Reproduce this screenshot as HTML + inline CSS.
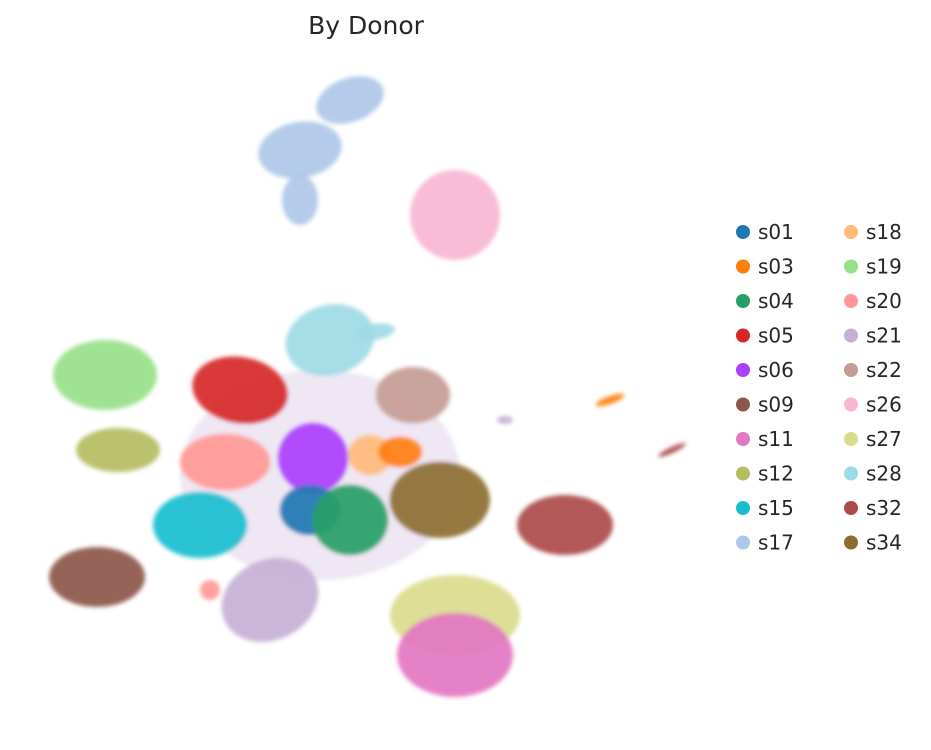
<!DOCTYPE html>
<html><head><meta charset="utf-8"><style>
body{margin:0;background:#fff;width:931px;height:745px;overflow:hidden;font-family:"Liberation Sans","DejaVu Sans",sans-serif;}
svg text{font-family:"DejaVu Sans","Liberation Sans",sans-serif;fill:#262626;}
</style></head><body>
<svg id="chart" width="931" height="745" viewBox="0 0 931 745">
<defs><filter id="fz" x="-20%" y="-20%" width="140%" height="140%"><feGaussianBlur stdDeviation="2"/></filter></defs>
<text x="366" y="34" text-anchor="middle" font-size="25">By Donor</text>
<g id="plot" filter="url(#fz)"></g>
<g id="legend"></g>
</svg>
<script>
// Donor categories and palette
const donors = ["s01","s03","s04","s05","s06","s09","s11","s12","s15","s17","s18","s19","s20","s21","s22","s26","s27","s28","s32","s34"];
const colors = ["#1f77b4","#ff7f0e","#279e68","#d62728","#aa40fc","#8c564b","#e377c2","#b5bd61","#17becf","#aec7e8","#ffbb78","#98df8a","#ff9896","#c5b0d5","#c49c94","#f7b6d2","#dbdb8d","#9edae5","#ad494a","#8c6d31"];
// Cluster blobs in UMAP coordinates (donor, centre x, centre y, spread x, spread y, rotation)
const blobDonor = ["s17","s17","s17","s26","s19","s12","s05","s28","s28","s22","s20","s06","s18","s03","s15","s01","s04","s34","s32","s09","s21","s20","s27","s11","s03","s32","s21"];
const blobX = [35,30,30,45.5,10.5,11.8,24,33,37.5,41.3,22.5,31.3,37,40,20,31,35,44,56.5,9.7,27,21,45.5,45.5,61,67.2,50.5];
const blobY = [64.5,59.5,54.5,53,37,29.5,35.5,40.5,41.3,35,28.3,28.7,29,29.3,22,23.5,22.5,24.5,22,16.8,14.5,15.5,13,9,34.5,29.5,32.5];
const blobRX = [3.5,4.2,1.8,4.5,5.2,4.2,4.8,4.5,2.0,3.7,4.5,3.5,2.2,2.2,4.7,3.0,3.8,5.0,4.8,4.8,5.0,1.0,6.5,5.8,1.5,1.5,0.8];
const blobRY = [2.2,2.8,2.5,4.5,3.5,2.2,3.3,3.5,0.8,2.8,2.8,3.5,2.0,1.5,3.3,2.5,3.5,3.8,3.0,3.0,4.0,1.0,4.0,4.2,0.4,0.3,0.4];
const blobRot = [-20,-10,0,0,0,0,10,-15,-10,0,0,0,0,0,0,0,0,0,0,0,-25,0,0,0,-20,-25,0];
const xScale = v => v * 10;
const yScale = v => 745 - v * 10;
const ns = "http://www.w3.org/2000/svg";
const plot = document.getElementById('plot');
// faint background haze of mixed cells
const haze = document.createElementNS(ns,'ellipse');


haze.setAttribute('cx', xScale(32)); haze.setAttribute('cy', yScale(27));
haze.setAttribute('rx', 140); haze.setAttribute('ry', 105);
haze.setAttribute('fill', '#c9b0d8'); haze.setAttribute('opacity', '0.3');
plot.appendChild(haze);
blobDonor.forEach((d,i)=>{
  const e = document.createElementNS(ns,'ellipse');
  
  
  const cx = xScale(blobX[i]), cy = yScale(blobY[i]);
  e.setAttribute('cx', cx); e.setAttribute('cy', cy);
  e.setAttribute('rx', blobRX[i]*10); e.setAttribute('ry', blobRY[i]*10);
  e.setAttribute('transform', `rotate(${blobRot[i]} ${cx} ${cy})`);
  e.setAttribute('fill', colors[donors.indexOf(d)]);
  e.setAttribute('opacity', '0.92');
  plot.appendChild(e);
});
const legend = document.getElementById('legend');
donors.forEach((d,i)=>{
  const col = Math.floor(i/10), row = i%10;
  const g = document.createElementNS(ns,'g');
  
  
  const x = 743 + col*108, y = 232 + row*34.5;
  const c = document.createElementNS(ns,'circle');
  c.setAttribute('cx', x); c.setAttribute('cy', y); c.setAttribute('r', 7);
  c.setAttribute('fill', colors[i]);
  const t = document.createElementNS(ns,'text');
  t.setAttribute('x', x+15); t.setAttribute('y', y+7); t.setAttribute('font-size', '20');
  t.textContent = d;
  g.appendChild(c); g.appendChild(t); legend.appendChild(g);
});
</script>
</body></html>
